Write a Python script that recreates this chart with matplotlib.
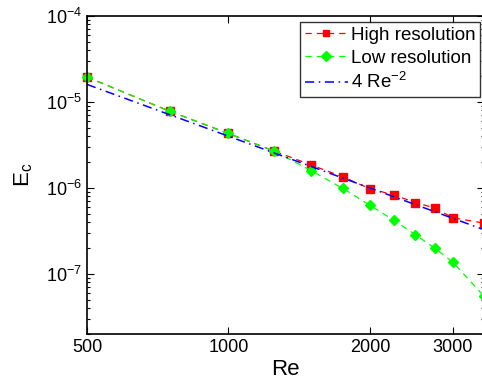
#!/usr/bin/env python3
"""
Energy E_c versus Reynolds number, high vs low resolution runs.
"""

import numpy as np
import matplotlib
matplotlib.use("Agg")
import matplotlib.pyplot as plt
from matplotlib.ticker import FixedLocator, FixedFormatter, NullLocator

plt.rcParams['font.family'] = ['Liberation Sans', 'DejaVu Sans']
plt.rcParams['mathtext.fontset'] = 'custom'
plt.rcParams['mathtext.rm'] = 'Liberation Sans'
plt.rcParams['mathtext.it'] = 'Liberation Sans:italic'

# Data
re_vals = [500, 750, 1000, 1250, 1500, 1750, 2000, 2250, 2500, 2750, 3000, 3500]
high_res = [1.95e-5, 7.8e-6, 4.3e-6, 2.69e-6, 1.85e-6, 1.35e-6, 9.8e-7,
            8.3e-7, 6.75e-7, 5.85e-7, 4.5e-7, 3.9e-7]
low_res = [1.95e-5, 7.8e-6, 4.3e-6, 2.69e-6, 1.59e-6, 9.9e-7, 6.3e-7,
           4.2e-7, 2.86e-7, 1.99e-7, 1.38e-7, 5.5e-8]
fit_coef = 4
fit_exp = -2

x_ticks = [500, 1000, 2000, 3000]

fig = plt.figure(figsize=(4.82, 3.86), dpi=100)
ax = fig.add_axes([87 / 482, 1 - 334 / 386, 397 / 482, 318 / 386])

re_fit = np.linspace(500, 3500, 200)
ax.plot(re_vals, high_res, color='red', linestyle=(0, (5, 4)), linewidth=0.9,
        marker='s', markersize=5.5, label='High resolution', clip_on=False)
ax.plot(re_vals, low_res, color='#00ff00', linestyle=(0, (5, 4)), linewidth=0.9,
        marker='D', markersize=5.5, label='Low resolution', clip_on=False)
ax.plot(re_fit, fit_coef * re_fit ** fit_exp, color='blue',
        linestyle=(0, (6, 3, 1, 3)), linewidth=1.1,
        label=r'4 Re$^{-2}$')

ax.set_xscale('log')
ax.set_yscale('log')
ax.set_xlim(500, 3500)
ax.set_ylim(2e-8, 1e-4)

ax.xaxis.set_major_locator(FixedLocator(x_ticks))
ax.xaxis.set_major_formatter(FixedFormatter([str(t) for t in x_ticks]))
ax.xaxis.set_minor_locator(NullLocator())
ax.set_yticks([1e-7, 1e-6, 1e-5, 1e-4])

ax.tick_params(which='both', direction='in', top=True, right=True,
               labelsize=13, width=0.8)
ax.tick_params(which='major', length=5)
ax.tick_params(which='minor', length=2.5)
for sp in ax.spines.values():
    sp.set_linewidth(1.2)

ax.set_xlabel('Re', fontsize=16, labelpad=2)
ax.set_ylabel(r'E$_\mathregular{c}$', fontsize=16, labelpad=8)

leg = ax.legend(loc='upper right', bbox_to_anchor=(480 / 482, 1 - 22 / 386),
                bbox_transform=fig.transFigure, fontsize=13.5,
                frameon=True, fancybox=False, edgecolor='black',
                handlelength=2.3, handletextpad=0.15, borderpad=0.25,
                labelspacing=0.3, borderaxespad=0, markerscale=0.9)
leg.get_frame().set_linewidth(1.0)

plt.savefig('out.png', dpi=100)
